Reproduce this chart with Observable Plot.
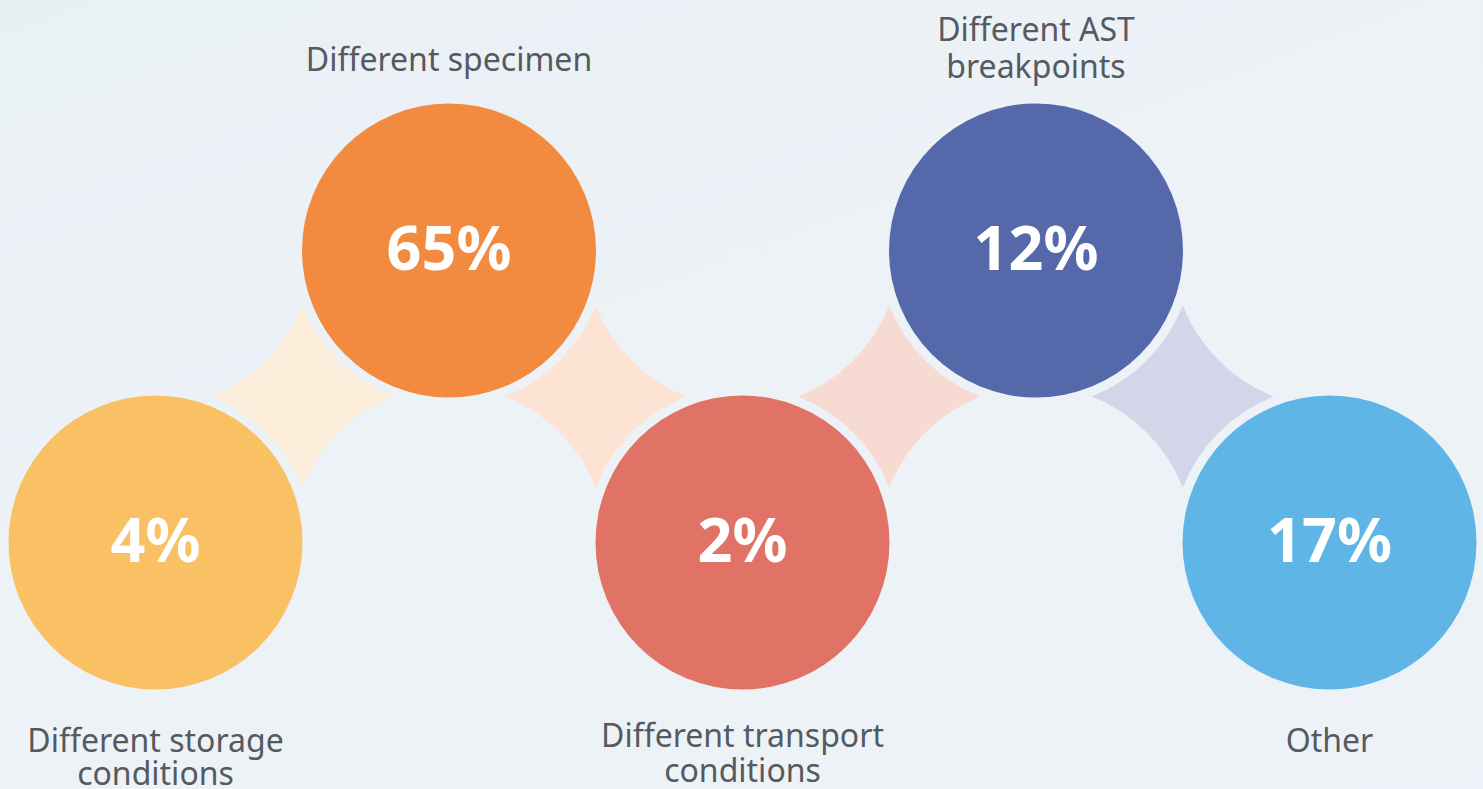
<!DOCTYPE html>
<html>
<head>
<meta charset="utf-8">
<script src="https://cdn.jsdelivr.net/npm/d3@7"></script>
<script src="https://cdn.jsdelivr.net/npm/@observablehq/plot@0.6"></script>
<style>
  html, body { margin: 0; padding: 0; overflow: hidden; }
  body {
    width: 1483px; height: 789px;
    background: linear-gradient(160deg, #e9f0f4 0%, #edf2f7 50%, #eef2f8 100%);
  }
  #chart svg { display: block; background: transparent; }
</style>
</head>
<body>
<div id="chart"></div>
<script>
// ---- data ----
const categories = [
  "Different storage\nconditions",
  "Different specimen",
  "Different transport\nconditions",
  "Different AST\nbreakpoints",
  "Other"
];
const values = [4, 65, 2, 12, 17];
const circleColors = ["#f9c164", "#f28a40", "#e07365", "#5569aa", "#5fb5e6"];
const connectorColors = ["#fdeedb", "#fde3d4", "#f7dbd2", "#d3d5e9"];

// ---- build tables ----
const items = categories.map((c, i) => ({
  label: c,
  value: values[i],
  pct: values[i] + "%",
  color: circleColors[i],
  step: i,
  row: i % 2            // 0 = lower row, 1 = upper row
}));
const connectors = connectorColors.map((col, i) => ({
  step: i + 0.5,
  row: 0.5,
  color: col
}));

// concave four-point star as a custom symbol
const star = {
  draw(context, size) {
    const t = Math.sqrt(size / Math.PI);
    const R = t * 1.77;
    const tips = [[t, 0], [0, t], [-t, 0], [0, -t]];
    context.moveTo(tips[0][0], tips[0][1]);
    for (let k = 0; k < 4; k++) {
      const a = tips[k], b = tips[(k + 1) % 4];
      const sx = Math.sign(a[0] + b[0]), sy = Math.sign(a[1] + b[1]);
      const c = (t + Math.sqrt(2 * R * R - t * t)) / 2;
      const cx = c * sx, cy = c * sy;
      const a0 = Math.atan2(a[1] - cy, a[0] - cx);
      const a1 = Math.atan2(b[1] - cy, b[0] - cx);
      let d = a1 - a0;
      while (d > Math.PI) d -= 2 * Math.PI;
      while (d < -Math.PI) d += 2 * Math.PI;
      context.arc(cx, cy, R, a0, a1, d < 0);
    }
    context.closePath();
  }
};

const byIndex = (idx) => items.filter(d => idx.includes(d.step));
const labelStyle = { x: "step", y: "row", text: "label", fill: "#555a60", fontSize: 32 };

const chart = Plot.plot({
  width: 1483,
  height: 789,
  margin: 0,
  x: { domain: [0, 4], range: [155, 1329], axis: null },
  y: { domain: [0, 1], range: [542, 250], axis: null },
  style: { background: "transparent", fontFamily: "'Noto Sans', sans-serif" },
  marks: [
    Plot.dot(connectors, {
      x: "step", y: "row", r: 91, symbol: star,
      fill: "color", stroke: null
    }),
    Plot.dot(items, {
      x: "step", y: "row", r: 147, fill: "color", stroke: null
    }),
    Plot.text(items, {
      x: "step", y: "row", text: "pct",
      fill: "white", fontSize: 61, fontWeight: "bold"
    }),
    Plot.text(byIndex([1]), { ...labelStyle, dy: -180, lineAnchor: "bottom" }),
    Plot.text(byIndex([3]), { ...labelStyle, dy: -173, lineAnchor: "bottom", lineHeight: 1.14 }),
    Plot.text(byIndex([0, 4]), { ...labelStyle, dy: 186, lineAnchor: "top", lineHeight: 1.04 }),
    Plot.text(byIndex([2]), { ...labelStyle, dy: 179, lineAnchor: "top", lineHeight: 1.1 })
  ]
});
document.getElementById("chart").append(chart);
</script>
</body>
</html>
